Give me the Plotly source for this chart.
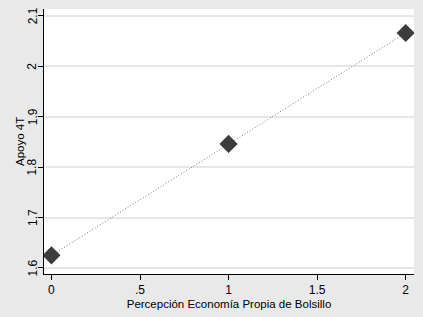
import plotly.graph_objects as go

x_vals = [0, 1, 2]
y_vals = [1.625, 1.846, 2.066]
x_ticks = [0, 0.5, 1, 1.5, 2]
x_tick_labels = ["0", ".5", "1", "1.5", "2"]
y_ticks = [1.6, 1.7, 1.8, 1.9, 2.0, 2.1]
y_tick_labels = ["1.6", "1.7", "1.8", "1.9", "2", "2.1"]

fig = go.Figure()
fig.add_trace(go.Scatter(
    x=x_vals, y=y_vals, mode="lines",
    line=dict(color="#7a7a7a", width=1, dash="1px,2px"),
    hoverinfo="skip", showlegend=False))
fig.add_trace(go.Scatter(
    x=x_vals, y=y_vals, mode="markers",
    marker=dict(symbol="diamond", size=14, color="#3c3c3c"),
    showlegend=False))

plot_w = 423 - 44 - 9

def px_to_paper(px):
    return (px - 44) / plot_w

annotations = [dict(text="Apoyo 4T", xref="paper", yref="paper",
                    x=px_to_paper(19.5), y=0.5, xanchor="center", yanchor="middle",
                    textangle=-90, showarrow=False, font=dict(size=11.5))]
for v, t in zip(y_ticks, y_tick_labels):
    annotations.append(dict(text=t, xref="paper", yref="y", x=px_to_paper(32.5), y=v,
                            xanchor="center", yanchor="middle", textangle=-90,
                            showarrow=False, font=dict(size=12)))

font = dict(family="Liberation Sans, Arial, sans-serif", size=12, color="#000000")
fig.update_layout(
    width=423, height=317,
    margin=dict(l=44, r=9, t=9, b=38),
    paper_bgcolor="#e9e9e9", plot_bgcolor="#ffffff",
    font=font,
    xaxis=dict(range=[-0.042, 2.047], tickvals=x_ticks, ticktext=x_tick_labels,
               showgrid=False, zeroline=False, showline=True, linecolor="#000000",
               linewidth=1, ticks="outside", ticklen=5, tickcolor="#000000",
               title=dict(text="Percepción Economía Propia de Bolsillo", standoff=3,
                          font=dict(size=11.5))),
    yaxis=dict(range=[1.588, 2.1136], tickvals=y_ticks, showticklabels=False,
               showgrid=True, gridcolor="#e6e6e6",
               gridwidth=1.5, zeroline=False, showline=True, linecolor="#000000",
               linewidth=1, ticks="outside", ticklen=5, tickcolor="#000000"),
    annotations=annotations,
)
fig.write_html("out.html", config={"displayModeBar": False},
               post_script="document.body.style.margin='0';")
